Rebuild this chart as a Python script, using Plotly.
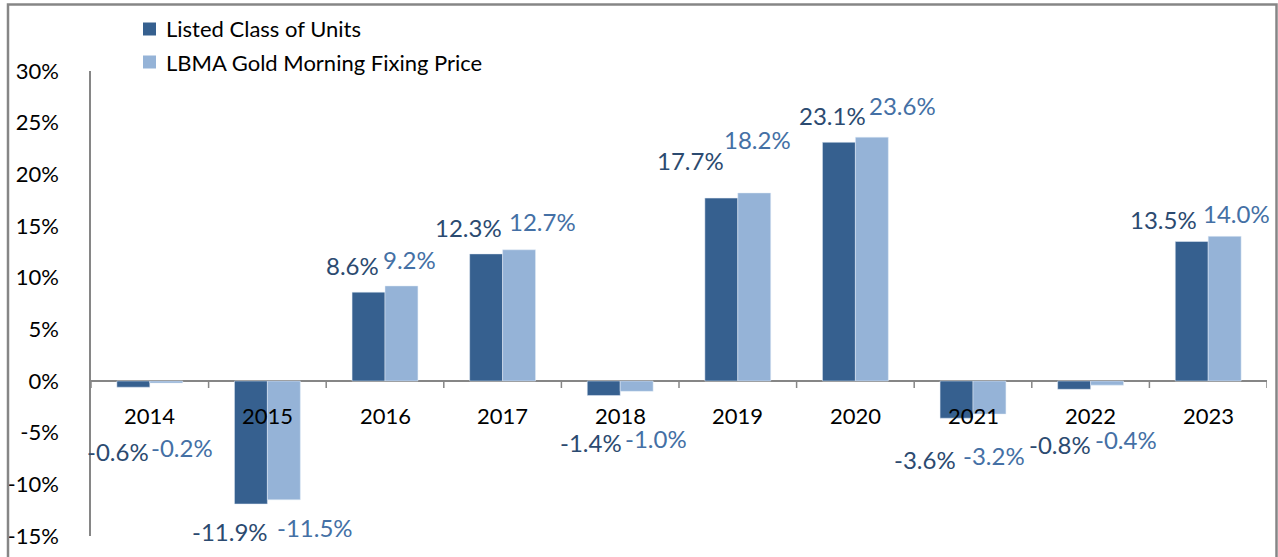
import plotly.graph_objects as go

# ---- data ----
years = ["2014", "2015", "2016", "2017", "2018", "2019", "2020", "2021", "2022", "2023"]
listed = [-0.6, -11.9, 8.6, 12.3, -1.4, 17.7, 23.1, -3.6, -0.8, 13.5]
lbma = [-0.2, -11.5, 9.2, 12.7, -1.0, 18.2, 23.6, -3.2, -0.4, 14.0]
y_ticks = [-15, -10, -5, 0, 5, 10, 15, 20, 25, 30]
y_tick_labels = [f"{v}%" for v in y_ticks]
series_names = ["Listed Class of Units", "LBMA Gold Morning Fixing Price"]

# ---- style ----
DARK = "#36608F"
LIGHT = "#95B3D7"
DARK_TXT = "#2B4A70"
LIGHT_TXT = "#4470A5"
AXIS = "#868686"
FONT = "Lato"
BARGAP = 0.44
L, R, T, B = 91, 11, 71, 21
W, H = 1278, 557
PW, PH = W - L - R, H - T - B

def px_x(p):
    return (p - L) / PW

def px_y(p):
    return (H - B - p) / PH

# label nudges (pixels) relative to bar end, as in the original layout
listed_dx = [-15, -21, -16, -18, -13, -31, -6, -32, -14, -28]
listed_dy = [-64, -28, 27, 26, -47, 38, 27, -41, -55, 22]
lbma_dx = [16, 31, 8, 23, 19, 3, 31, 5, 19, 12]
lbma_dy = [-64, -28, 26, 28, -47, 53, 32, -41, -54, 23]

xi = list(range(len(years)))

fig = go.Figure()
fig.add_trace(go.Bar(x=xi, y=listed, name=series_names[0], marker_color=DARK))
fig.add_trace(go.Bar(x=xi, y=lbma, name=series_names[1], marker_color=LIGHT))

off = (1 - BARGAP) / 4
ann = []
for i, v in enumerate(listed):
    ann.append(dict(x=i - off, y=v, xref="x", yref="y", text=f"{v:.1f}%", showarrow=False,
                    xanchor="center", yanchor="middle", xshift=listed_dx[i], yshift=listed_dy[i],
                    font=dict(family=FONT, size=24, color=DARK_TXT)))
for i, v in enumerate(lbma):
    ann.append(dict(x=i + off, y=v, xref="x", yref="y", text=f"{v:.1f}%", showarrow=False,
                    xanchor="center", yanchor="middle", xshift=lbma_dx[i], yshift=lbma_dy[i],
                    font=dict(family=FONT, size=24, color=LIGHT_TXT)))
for i, yr in enumerate(years):
    ann.append(dict(x=i, y=0, xref="x", yref="y", text=yr, showarrow=False,
                    xanchor="center", yanchor="middle", yshift=-34,
                    font=dict(family=FONT, size=22, color="#000000")))

shapes = []
for i in range(len(years) + 1):
    shapes.append(dict(type="line", xref="x", yref="y", x0=i - 0.5, x1=i - 0.5,
                       ysizemode="pixel", yanchor=0, y0=0, y1=-7,
                       line=dict(color=AXIS, width=1.5)))
# outer chart border
shapes.append(dict(type="rect", xref="paper", yref="paper", x0=px_x(8), x1=px_x(1276.5),
                   y0=px_y(580), y1=px_y(4.5), line=dict(color=AXIS, width=2.5), layer="above"))

# manual legend
for name, col, row_y in zip(series_names, [DARK, LIGHT], [29, 62]):
    shapes.append(dict(type="rect", xref="paper", yref="paper",
                       xsizemode="pixel", ysizemode="pixel",
                       xanchor=px_x(143), yanchor=px_y(row_y),
                       x0=0, x1=13, y0=-6.5, y1=6.5,
                       fillcolor=col, line=dict(width=0)))
    ann.append(dict(x=px_x(164), y=px_y(row_y), xref="paper", yref="paper", text=name,
                    showarrow=False, xanchor="left", yanchor="middle",
                    font=dict(family=FONT, size=22, color="#000000")))

fig.update_layout(
    width=W, height=H,
    margin=dict(l=L, r=R, t=T, b=B, autoexpand=False),
    plot_bgcolor="white", paper_bgcolor="white",
    barmode="group", bargap=BARGAP, bargroupgap=0,
    font=dict(family=FONT, size=22, color="#000000"),
    showlegend=False,
    xaxis=dict(range=[-0.5, len(years) - 0.5], showticklabels=False, showgrid=False,
               zeroline=False, showline=False, ticks=""),
    yaxis=dict(range=[y_ticks[0], y_ticks[-1]], tickmode="array", tickvals=y_ticks,
               ticktext=y_tick_labels,
               showgrid=False, zeroline=True, zerolinecolor=AXIS, zerolinewidth=1.5,
               showline=True, linecolor=AXIS, linewidth=1.5, ticks="",
               ticklabelstandoff=26, tickfont=dict(family=FONT, size=22, color="#000000")),
    annotations=ann, shapes=shapes,
)

fig.write_html("out.html", config={"displayModeBar": False},
               post_script="document.body.style.margin='0px';document.body.style.overflow='hidden';")
